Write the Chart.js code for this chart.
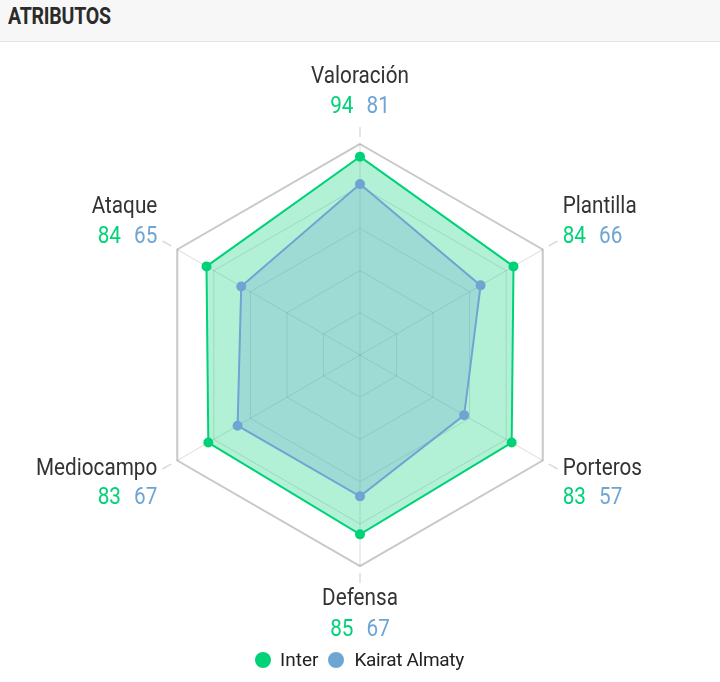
<!DOCTYPE html>
<html><head><meta charset="utf-8">
<script src="https://cdn.jsdelivr.net/npm/chart.js@4/dist/chart.umd.min.js"></script>
<style>
html,body{margin:0;padding:0;background:#fff;width:720px;height:682px;overflow:hidden;font-family:Roboto,sans-serif}
#hdr{position:absolute;left:0;top:0;width:720px;height:41px;background:#f7f7f7;border-bottom:1px solid #e4e4e4}
#ttl{position:absolute;left:8px;top:7px;font-weight:700;font-size:23px;line-height:20px;letter-spacing:-0.3px;color:#2b2b2b;transform:scaleX(0.85);transform-origin:0 0}
#c{position:absolute;left:0;top:0}
#leg{position:absolute;left:255px;top:650px;height:19px;display:flex;align-items:center;font-size:19px;line-height:19px;color:#222}
.dot{width:16px;height:16px;border-radius:50%;display:inline-block;margin-right:9px}
</style></head>
<body>
<div id="hdr"><span id="ttl">ATRIBUTOS</span></div>
<canvas id="c" width="720" height="682"></canvas>
<div id="leg"><span class="dot" style="background:rgb(0,210,120)"></span><span style="margin-right:10px">Inter</span><span class="dot" style="background:rgb(110,165,210);margin-right:10px"></span><span style="letter-spacing:-0.3px">Kairat Almaty</span></div>
<script>
const categories = ['Valoración','Plantilla','Porteros','Defensa','Mediocampo','Ataque'];
const interValues = [94, 84, 83, 85, 83, 84];
const kairatValues = [81, 66, 57, 67, 67, 65];
const seriesNames = ['Inter', 'Kairat Almaty'];
const GREEN = 'rgb(0,210,120)';
const BLUE = 'rgb(110,165,210)';
const SX = 0.9;

function drawText(ctx, text, x, y, align, color) {
  ctx.save();
  ctx.translate(x, y);
  ctx.scale(SX, 1);
  ctx.textAlign = align;
  ctx.fillStyle = color;
  ctx.fillText(text, 0, 0);
  ctx.restore();
}

const labelPlugin = {
  id: 'pointLabelsCustom',
  afterDraw(chart) {
    const s = chart.scales.r;
    const ctx = chart.ctx;
    const R = s.drawingArea;
    ctx.save();
    ctx.font = '23px Roboto';
    ctx.textBaseline = 'alphabetic';
    categories.forEach((name, i) => {
      const a = s.getPointPosition(i, R + 7), b = s.getPointPosition(i, R + 17);
      ctx.strokeStyle = '#dddddd'; ctx.lineWidth = 1.5;
      ctx.beginPath(); ctx.moveTo(a.x, a.y); ctx.lineTo(b.x, b.y); ctx.stroke();
      const v = s.getPointPosition(i, R);
      const dx = v.x - s.xCenter, dy = v.y - s.yCenter;
      let align, x, yName, yVal;
      if (Math.abs(dx) < 1) {
        align = 'center'; x = v.x;
        if (dy < 0) { yName = v.y - 61; yVal = v.y - 31; } else { yName = v.y + 39; yVal = v.y + 70; }
      } else {
        align = dx > 0 ? 'left' : 'right'; x = v.x + (dx > 0 ? 20 : -20);
        if (dy < 0) { yName = v.y - 36.5; yVal = v.y - 6.5; } else { yName = v.y + 14.5; yVal = v.y + 43.5; }
      }
      drawText(ctx, name, x, yName, align, '#333333');
      const t1 = String(interValues[i]), t2 = String(kairatValues[i]);
      const w1 = ctx.measureText(t1).width * SX, w2 = ctx.measureText(t2).width * SX, gap = 13;
      let x1;
      if (align === 'left') x1 = x;
      else if (align === 'right') x1 = x - w2 - gap - w1;
      else x1 = x - (w1 + gap + w2) / 2;
      drawText(ctx, t1, x1, yVal, 'left', GREEN);
      drawText(ctx, t2, x1 + w1 + gap, yVal, 'left', BLUE);
    });
    ctx.restore();
  }
};

new Chart(document.getElementById('c'), {
  type: 'radar',
  data: {
    labels: categories,
    datasets: [
      { label: seriesNames[0], data: interValues, borderColor: GREEN, backgroundColor: 'rgba(0,210,120,0.3)',
        pointBackgroundColor: GREEN, pointBorderColor: GREEN, pointRadius: 4, borderWidth: 2, order: 1, fill: true },
      { label: seriesNames[1], data: kairatValues, borderColor: BLUE, backgroundColor: 'rgba(110,165,210,0.3)',
        pointBackgroundColor: BLUE, pointBorderColor: BLUE, pointRadius: 4, borderWidth: 2, order: 0, fill: true }
    ]
  },
  options: {
    responsive: false,
    animation: false,
    layout: { padding: { left: 149, right: 149, top: 144, bottom: 116 } },
    plugins: { legend: { display: false }, tooltip: { enabled: false } },
    elements: { line: { tension: 0 } },
    scales: {
      r: {
        min: 0, max: 100,
        ticks: { display: false, stepSize: 20 },
        pointLabels: { display: false },
        grid: {
          color: (c) => (c.tick && c.tick.value === 100) ? '#c8c8c8' : 'rgba(0,0,0,0.14)',
          lineWidth: (c) => (c.tick && c.tick.value === 100) ? 2 : 1
        },
        angleLines: { color: 'rgba(0,0,0,0.14)', lineWidth: 1 }
      }
    }
  },
  plugins: [labelPlugin]
});
</script>
</body></html>
